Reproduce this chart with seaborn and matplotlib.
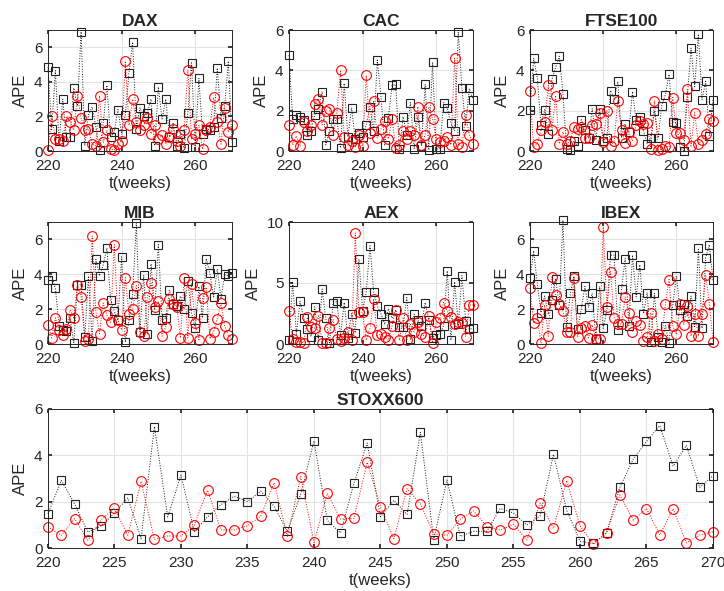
import numpy as np
import pandas as pd
import seaborn as sns
import matplotlib.pyplot as plt

sns.set_theme(style="ticks")
plt.rcParams['font.family'] = ['Liberation Sans', 'DejaVu Sans']

weeks = list(range(220, 271))

dax_black = [4.85, 1.25, 4.65, 0.55, 3.0, 0.8, 0.8, 3.65, 2.6, 6.9, 0.3, 2.1, 2.55, 1.4, 0.05, 1.6,
             3.8, 0.8, 1.1, 2.4, 1.0, 2.1, 4.5, 6.3, 1.3, 2.5, 2.0, 2.2, 3.0, 0.3, 3.7, 1.85, 3.0,
             0.8, 1.6, 0.3, 1.0, 0.15, 2.2, 5.1, 0.25, 4.2, 1.0, 1.3, 1.2, 1.4, 4.8, 1.9, 2.6, 5.2, 0.5]
dax_red = [0.05, 2.05, 0.7, 0.7, 0.55, 2.0, 1.7, 1.2, 3.2, 1.9, 1.2, 1.3, 0.4, 0.3, 3.2, 0.5, 1.2,
           0.1, 0.05, 0.4, 0.6, 5.2, 1.5, 3.0, 1.7, 1.2, 1.5, 1.9, 1.0, 1.5, 0.7, 0.9, 0.4, 0.8, 1.3,
           0.6, 0.3, 1.2, 4.7, 0.7, 1.0, 1.5, 0.1, 1.2, 1.4, 3.1, 1.7, 0.4, 2.5, 1.1, 1.5]

cac_black = [4.75, 1.6, 1.8, 1.7, 1.55, 0.8, 1.0, 1.8, 2.1, 2.95, 0.3, 1.0, 1.6, 1.6, 0.15, 3.35,
             0.7, 2.15, 0.6, 0.9, 0.7, 1.3, 2.2, 1.0, 4.5, 2.7, 0.3, 1.65, 3.25, 3.3, 0.1, 1.7, 0.8,
             2.4, 0.1, 1.7, 0.25, 3.3, 0.05, 4.4, 0.1, 0.1, 2.4, 2.15, 1.4, 1.0, 5.9, 3.1, 1.25, 3.1, 2.55]
cac_red = [1.3, 0.3, 0.75, 0.25, 1.45, 1.0, 1.3, 2.35, 2.6, 1.3, 2.0, 2.1, 0.8, 1.9, 4.0, 0.7, 0.3,
           0.5, 0.2, 0.8, 0.25, 3.75, 0.9, 2.5, 0.65, 1.1, 1.5, 0.6, 1.6, 0.15, 0.3, 1.0, 0.6, 1.0,
           0.8, 2.2, 0.3, 0.8, 2.2, 1.6, 0.6, 0.45, 0.5, 0.7, 0.3, 4.6, 0.35, 0.2, 1.8, 0.8, 0.35]

ftse_black = [2.05, 4.6, 3.6, 1.3, 2.05, 0.85, 3.55, 4.15, 4.7, 2.85, 0.1, 0.05, 0.5, 0.25, 1.55,
              1.05, 0.65, 2.1, 0.55, 2.1, 0.5, 0.65, 3.0, 2.6, 3.45, 0.65, 1.35, 0.95, 2.95, 1.55,
              1.7, 1.0, 0.35, 0.65, 2.0, 0.65, 2.25, 2.8, 3.8, 1.45, 1.4, 0.2, 0.0, 2.7, 5.1, 3.2,
              5.8, 2.55, 3.45, 0.75, 2.55]
ftse_red = [3.0, 0.2, 0.35, 1.05, 1.45, 3.25, 1.05, 2.75, 0.35, 0.95, 0.35, 0.5, 1.2, 1.1, 1.2, 0.65,
            0.65, 1.3, 1.35, 1.9, 0.45, 2.0, 0.25, 0.5, 2.5, 1.05, 0.4, 0.95, 0.5, 1.3, 1.5, 1.35,
            1.4, 0.1, 2.5, 0.05, 0.1, 0.25, 0.2, 2.65, 0.9, 0.9, 0.55, 3.05, 0.25, 1.9, 0.35, 0.55,
            0.85, 1.6, 1.5]

mib_black = [3.7, 3.9, 3.2, 1.05, 0.8, 0.75, 1.5, 0.05, 3.4, 3.4, 0.4, 3.9, 0.2, 4.85, 3.9, 4.55,
             5.5, 2.55, 1.9, 1.35, 5.0, 0.1, 1.35, 2.85, 6.95, 0.7, 3.95, 0.55, 4.6, 1.95, 5.7, 1.35,
             1.5, 3.1, 2.3, 2.2, 2.75, 2.0, 3.6, 1.8, 0.9, 3.3, 1.5, 4.9, 4.05, 2.7, 4.3, 2.6, 4.0,
             3.9, 4.1]
mib_red = [1.1, 0.35, 1.5, 0.8, 0.5, 0.85, 1.95, 1.5, 3.4, 2.7, 0.15, 0.3, 6.2, 1.85, 0.6, 2.35,
           1.65, 1.25, 5.7, 1.35, 0.8, 3.8, 1.7, 2.0, 3.35, 0.7, 0.45, 2.7, 3.5, 2.1, 2.45, 0.45, 1.0,
           2.6, 2.3, 2.15, 0.35, 3.8, 0.35, 3.45, 1.2, 0.25, 2.65, 3.25, 0.3, 0.7, 1.45, 2.35, 1.05,
           0.5, 0.3]

aex_black = [0.3, 5.1, 0.8, 3.5, 2.1, 1.2, 0.6, 3.05, 0.3, 4.5, 2.1, 0.1, 3.4, 3.5, 0.7, 3.4, 0.5,
             2.5, 0.9, 6.95, 2.7, 4.3, 8.05, 4.3, 3.1, 2.5, 1.6, 2.9, 2.1, 2.8, 1.4, 1.4, 3.8, 0.4,
             2.45, 1.95, 1.5, 3.4, 2.0, 0.5, 0.75, 0.8, 1.5, 6.0, 0.3, 5.1, 1.6, 5.6, 1.9, 1.2, 1.3]
aex_red = [2.7, 0.4, 0.2, 0.2, 0.1, 2.2, 1.4, 1.3, 2.3, 0.05, 0.05, 1.3, 2.0, 0.4, 0.25, 0.5, 1.0,
           0.3, 9.1, 2.6, 2.6, 0.3, 1.3, 3.7, 0.7, 0.8, 0.6, 0.3, 1.5, 2.8, 0.3, 2.1, 0.3, 1.6, 1.0,
           1.8, 0.8, 0.6, 2.3, 0.1, 1.8, 2.1, 3.4, 2.7, 2.2, 1.6, 1.8, 1.7, 0.6, 3.2, 3.2]

ibex_black = [3.8, 5.35, 3.45, 1.8, 2.75, 1.7, 2.55, 3.75, 2.25, 7.1, 0.95, 2.9, 3.9, 0.85, 2.0,
              3.3, 2.1, 2.9, 0.3, 3.3, 0.9, 1.95, 5.1, 5.1, 0.8, 3.15, 4.9, 1.05, 5.1, 2.7, 4.55,
              1.75, 2.95, 0.1, 2.9, 0.4, 0.1, 1.05, 0.05, 2.25, 3.9, 1.95, 2.3, 1.6, 2.75, 1.0, 5.5,
              0.9, 4.95, 5.7, 3.65]
ibex_red = [3.2, 1.2, 1.5, 0.05, 2.25, 0.45, 3.85, 2.8, 2.3, 1.9, 0.7, 0.7, 3.8, 0.4, 0.9, 1.05,
            0.35, 1.1, 0.3, 0.3, 6.7, 2.15, 4.15, 1.5, 1.15, 1.15, 2.7, 1.8, 0.7, 1.3, 1.1, 0.15, 0.4,
            1.8, 0.2, 0.6, 0.3, 2.3, 3.7, 1.05, 0.55, 2.3, 1.1, 2.2, 0.45, 1.7, 0.45, 1.7, 3.95, 2.3, 0.1]

stoxx_black = [1.47, 2.92, 1.91, 0.68, 0.96, 1.51, 2.16, 0.40, 5.24, 1.34, 3.15, 0.70, 1.35, 1.87,
               2.23, 2.0, 2.46, 1.80, 0.72, 2.32, 4.62, 1.19, 0.65, 2.79, 4.53, 1.35, 2.06, 1.45,
               4.99, 0.36, 2.94, 0.50, 0.72, 0.72, 1.71, 1.51, 1.0, 1.38, 4.04, 1.63, 0.29, 0.2,
               0.66, 2.62, 3.83, 4.60, 5.28, 3.53, 4.43, 2.62, 3.12]
stoxx_red = [0.91, 0.55, 1.27, 0.33, 1.22, 1.71, 0.55, 2.88, 0.37, 0.52, 0.52, 0.99, 2.50, 0.78,
             0.78, 0.96, 1.38, 2.82, 0.50, 3.08, 0.24, 2.36, 1.25, 1.28, 3.70, 1.78, 0.40, 2.56,
             1.91, 0.60, 0.55, 1.25, 1.60, 0.92, 0.78, 1.02, 0.35, 1.94, 0.85, 2.91, 0.96, 0.16,
             0.66, 2.29, 1.21, 1.70, 0.56, 1.70, 0.22, 0.56, 0.70]

panels = [
    ("DAX", dax_black, dax_red, 7, [0, 2, 4, 6]),
    ("CAC", cac_black, cac_red, 6, [0, 2, 4, 6]),
    ("FTSE100", ftse_black, ftse_red, 6, [0, 2, 4, 6]),
    ("MIB", mib_black, mib_red, 7, [0, 2, 4, 6]),
    ("AEX", aex_black, aex_red, 10, [0, 5, 10]),
    ("IBEX", ibex_black, ibex_red, 7, [0, 2, 4, 6]),
]

W, H = 724, 591
fig = plt.figure(figsize=(W / 100, H / 100), dpi=100)

# axes boxes in pixels: left, top, right, bottom
boxes = [
    (48, 30, 232, 151), (289, 30, 473, 151), (530, 30, 713, 151),
    (48, 222, 232, 344), (289, 222, 473, 344), (530, 222, 713, 344),
]
bottom_box = (48, 409, 713, 548)


def make_ax(b):
    l, t, r, bt = b
    return fig.add_axes([l / W, 1 - bt / H, (r - l) / W, (bt - t) / H])


def draw(ax, title, black, red, ymax, yticks, xticks):
    df = pd.DataFrame({"week": weeks, "black": black, "red": red})
    sns.lineplot(data=df, x="week", y="black", ax=ax, color="k", marker="s", linestyle=":",
                 lw=0.7, markersize=6, markerfacecolor="none", markeredgecolor="#222222",
                 markeredgewidth=0.8, clip_on=False)
    sns.lineplot(data=df, x="week", y="red", ax=ax, color="red", marker="o", linestyle=":",
                 lw=0.7, markersize=7, markerfacecolor="none", markeredgecolor="red",
                 markeredgewidth=0.8, clip_on=False)
    ax.set_xlim(220, 270)
    ax.set_ylim(0, ymax)
    ax.set_xticks(xticks)
    ax.set_yticks(yticks)
    ax.grid(True, color="#e3e3e3", lw=0.8)
    ax.set_axisbelow(True)
    ax.tick_params(direction="in", length=3, labelsize=11, colors="#262626", top=True, right=True)
    ax.tick_params(axis="x", pad=6)
    ax.tick_params(axis="y", pad=4)
    for s in ax.spines.values():
        s.set_color("#262626")
        s.set_linewidth(0.7)
    ax.set_title(title, fontsize=12.5, fontweight="bold", pad=3)
    ax.set_xlabel("t(weeks)", fontsize=12, color="#262626", labelpad=2)
    ax.set_ylabel("APE", fontsize=12, color="#262626", labelpad=4)


for (title, blk, rd, ymax, yt), b in zip(panels, boxes):
    ax = make_ax(b)
    draw(ax, title, blk, rd, ymax, yt, [220, 240, 260])

ax = make_ax(bottom_box)
draw(ax, "STOXX600", stoxx_black, stoxx_red, 6, [0, 2, 4, 6], list(range(220, 271, 5)))

fig.savefig("out.png", dpi=100)
